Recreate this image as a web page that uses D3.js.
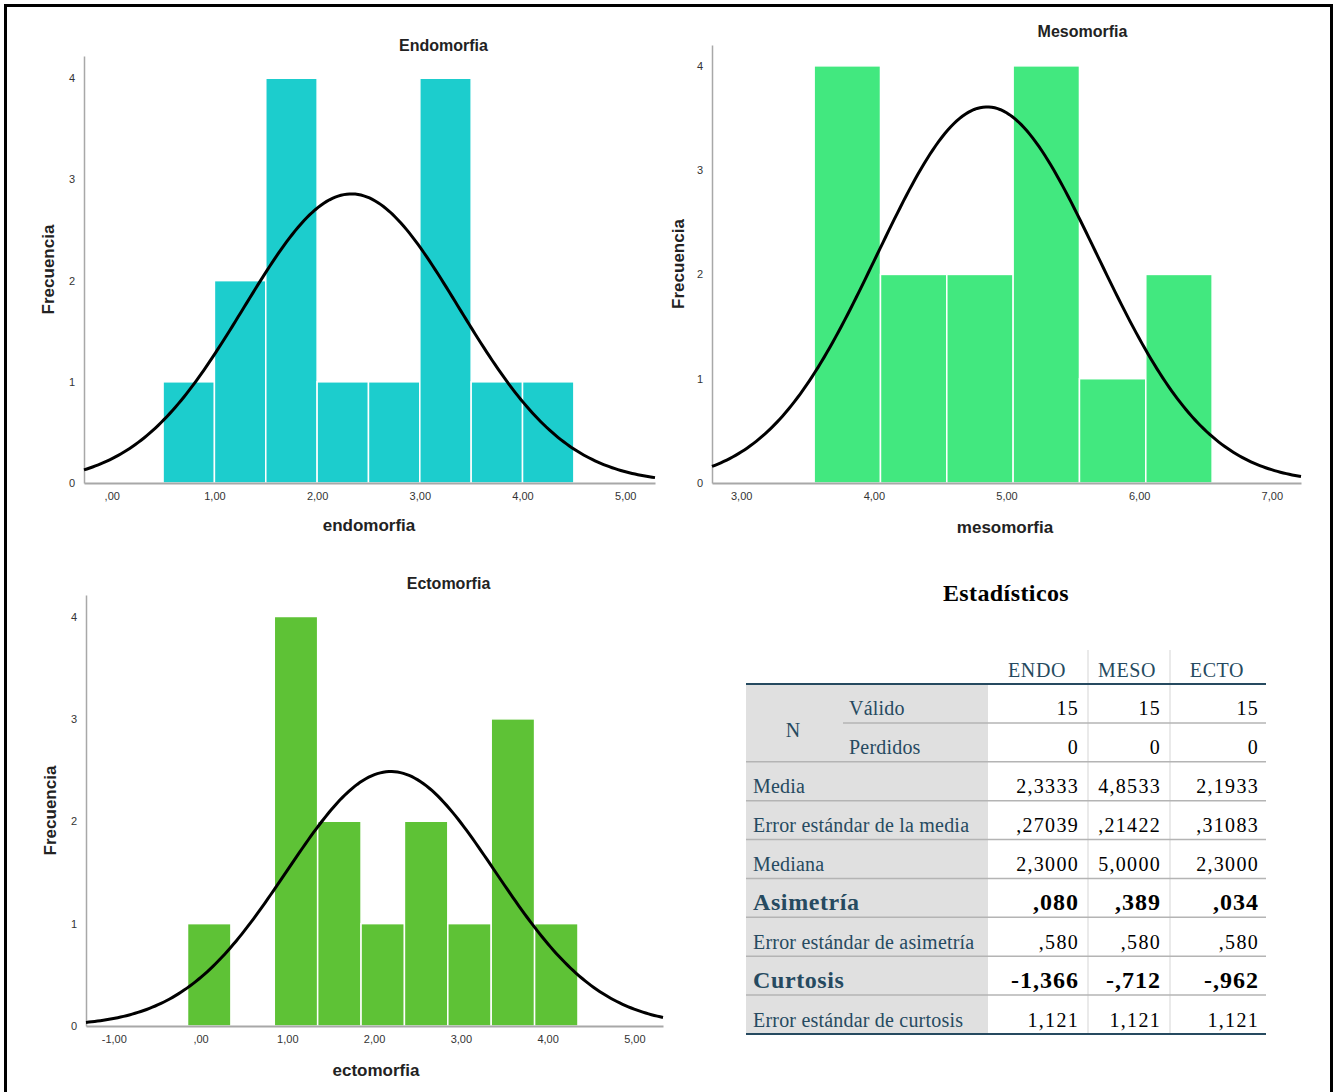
<!DOCTYPE html>
<html>
<head>
<meta charset="utf-8">
<script src="https://cdn.jsdelivr.net/npm/d3@7"></script>
<style>
    body { margin: 0; background: #fff; }
    .tick text { font-family: "Liberation Sans", Arial, sans-serif; }
</style>
</head>
<body>
<script>
//histogram bin edges and counts
var endoEdges = [0.5, 1.0, 1.5, 2.0, 2.5, 3.0, 3.5, 4.0, 4.5];
var endoCounts = [1, 2, 4, 1, 1, 4, 1, 1];
var mesoEdges = [3.55, 4.05, 4.55, 5.05, 5.55, 6.05, 6.55];
var mesoCounts = [4, 2, 2, 4, 1, 2];
var ectoEdges = [-0.15, 0.35, 0.85, 1.35, 1.85, 2.35, 2.85, 3.35, 3.85, 4.35];
var ectoCounts = [1, 0, 4, 2, 1, 2, 1, 3, 1];

//x tick values per histogram
var endoTicks = [0, 1, 2, 3, 4, 5];
var mesoTicks = [3, 4, 5, 6, 7];
var ectoTicks = [-1, 0, 1, 2, 3, 4, 5];
var yTicks = [0, 1, 2, 3, 4];

//statistics table
var columns = ["ENDO", "MESO", "ECTO"];
var nCases = 15;
var means = [2.3333, 4.8533, 2.1933];
var seMeans = [0.27039, 0.21422, 0.31083];
var rowLabels = ["Válido", "Perdidos", "Media", "Error estándar de la media", "Mediana",
    "Asimetría", "Error estándar de asimetría", "Curtosis", "Error estándar de curtosis"];
var rowValues = [
    ["15", "15", "15"],
    ["0", "0", "0"],
    ["2,3333", "4,8533", "2,1933"],
    [",27039", ",21422", ",31083"],
    ["2,3000", "5,0000", "2,3000"],
    [",080", ",389", ",034"],
    [",580", ",580", ",580"],
    ["-1,366", "-,712", "-,962"],
    ["1,121", "1,121", "1,121"]
];
var boldRows = [5, 7];

window.onload = draw();

function draw() {
    var width = 1337,
        height = 1092;

    var svg = d3.select("body")
        .append("svg")
        .attr("width", width)
        .attr("height", height);

    //black frame round the whole picture
    svg.append("path")
        .attr("d", "M5.5,1100 V5.5 H1331.5 V1100")
        .attr("fill", "none")
        .attr("stroke", "#000")
        .attr("stroke-width", 3);

    var panels = [
        { title: "Endomorfia", xTitle: "endomorfia", edges: endoEdges, counts: endoCounts, ticks: endoTicks,
          color: "#1ccdcd", col: 0, xDom: [-0.27, 5.29], xRange: [84, 655], yTop: 4.22, yRange: [483, 56],
          titleY: 51, xTitleY: 531, xTitleX: 369, yTitleX: 48 },
        { title: "Mesomorfia", xTitle: "mesomorfia", edges: mesoEdges, counts: mesoCounts, ticks: mesoTicks,
          color: "#42e87f", col: 1, xDom: [2.78, 7.22], xRange: [712, 1301], yTop: 4.2, yRange: [483, 45],
          titleY: 37, xTitleY: 533, xTitleX: 1005, yTitleX: 678 },
        { title: "Ectomorfia", xTitle: "ectomorfia", edges: ectoEdges, counts: ectoCounts, ticks: ectoTicks,
          color: "#5ec236", col: 2, xDom: [-1.32, 5.33], xRange: [86, 663], yTop: 4.21, yRange: [1026, 595],
          titleY: 589, xTitleY: 1076, xTitleX: 376, yTitleX: 50 }
    ];

    panels.forEach(drawHistogram);

    //SPSS style numbers: comma decimal, no leading zero, plain hyphen
    function fmt(v) {
        var s = d3.format(".2f")(v).replace(".", ",").replace("\u2212", "-");
        if (s.indexOf("0,") === 0) s = s.slice(1);
        return s;
    }

    function drawHistogram(p) {
        var x = d3.scaleLinear().domain(p.xDom).range(p.xRange);
        var y = d3.scaleLinear().domain([0, p.yTop]).range(p.yRange);
        var g = svg.append("g");

        var bins = p.counts.map(function(c, i) {
            return { x0: p.edges[i], x1: p.edges[i + 1], n: c };
        }).filter(function(d) { return d.n > 0; });

        //bars
        g.selectAll(".bar")
            .data(bins)
            .enter()
            .append("rect")
            .attr("class", "bar")
            .attr("x", function(d) { return x(d.x0); })
            .attr("width", function(d) { return x(d.x1) - x(d.x0); })
            .attr("y", function(d) { return y(d.n); })
            .attr("height", function(d) { return y(0) - y(d.n); })
            .attr("fill", p.color)
            .attr("stroke", "#fff")
            .attr("stroke-width", 1.5);

        //y axis
        var yAxis = g.append("g")
            .attr("transform", "translate(" + p.xRange[0] + ",0)")
            .call(d3.axisLeft(y).tickValues(yTicks).tickSize(0).tickPadding(9).tickFormat(d3.format("d")));
        yAxis.select(".domain").attr("stroke", "#a8a8a8").attr("stroke-width", 1.5);
        yAxis.selectAll("text").attr("font-size", 11).attr("fill", "#333");

        //x axis
        var xAxis = g.append("g")
            .attr("transform", "translate(0," + p.yRange[0] + ")")
            .call(d3.axisBottom(x).tickValues(p.ticks).tickSize(0).tickPadding(9).tickFormat(fmt));
        xAxis.select(".domain").attr("stroke", "#a8a8a8").attr("stroke-width", 2);
        xAxis.selectAll("text").attr("font-size", 11).attr("fill", "#333");

        //normal curve from the mean and standard deviation of the table
        var mu = means[p.col],
            sd = seMeans[p.col] * Math.sqrt(nCases),
            bw = p.edges[1] - p.edges[0];
        var xs = d3.range(p.xDom[0], p.xDom[1] + 0.0001, (p.xDom[1] - p.xDom[0]) / 200);
        var line = d3.line()
            .x(function(v) { return x(v); })
            .y(function(v) {
                var z = (v - mu) / sd;
                return y(nCases * bw * Math.exp(-0.5 * z * z) / (sd * Math.sqrt(2 * Math.PI)));
            });
        g.append("path")
            .datum(xs)
            .attr("d", line)
            .attr("fill", "none")
            .attr("stroke", "#000")
            .attr("stroke-width", 3);

        //titles
        g.append("text")
            .attr("x", (p.xRange[0] + p.xRange[1]) / 2 + (p.col === 1 ? 76 : 74))
            .attr("y", p.titleY)
            .attr("text-anchor", "middle")
            .attr("font-family", "Liberation Sans, Arial, sans-serif")
            .attr("font-weight", "bold")
            .attr("font-size", 16)
            .attr("fill", "#222")
            .text(p.title);

        g.append("text")
            .attr("x", p.xTitleX)
            .attr("y", p.xTitleY)
            .attr("text-anchor", "middle")
            .attr("font-family", "Liberation Sans, Arial, sans-serif")
            .attr("font-weight", "bold")
            .attr("font-size", 17)
            .attr("fill", "#222")
            .text(p.xTitle);

        var yc = (p.yRange[0] + p.yRange[1]) / 2;
        g.append("text")
            .attr("transform", "translate(" + p.yTitleX + "," + yc + ") rotate(-90)")
            .attr("text-anchor", "middle")
            .attr("dominant-baseline", "central")
            .attr("font-family", "Liberation Sans, Arial, sans-serif")
            .attr("font-weight", "bold")
            .attr("font-size", 17)
            .attr("fill", "#222")
            .text("Frecuencia");
    }

    drawTable();

    function drawTable() {
        var serif = "Liberation Serif, Times New Roman, serif",
            blue = "#264a60",
            left = 746,
            right = 1266,
            grayRight = 988;

        var rows = d3.scaleBand().domain(d3.range(rowLabels.length)).range([684, 1034]);
        var colRight = d3.scaleOrdinal().domain(columns).range([1079, 1161, 1259]);
        var colCenter = d3.scaleOrdinal().domain(columns).range([1037, 1127, 1217]);
        var t = svg.append("g");

        t.append("text")
            .attr("x", 1006)
            .attr("y", 601)
            .attr("text-anchor", "middle")
            .attr("font-family", serif)
            .attr("font-weight", "bold")
            .attr("font-size", 24)
            .attr("letter-spacing", 0.4)
            .attr("fill", "#000")
            .text("Estadísticos");

        //gray label block
        t.append("rect")
            .attr("x", left)
            .attr("y", rows(0))
            .attr("width", grayRight - left)
            .attr("height", rows.range()[1] - rows(0))
            .attr("fill", "#e0e0e0");

        //column separators
        t.selectAll(".vsep")
            .data([1088, 1170])
            .enter()
            .append("line")
            .attr("x1", function(d) { return d; })
            .attr("x2", function(d) { return d; })
            .attr("y1", 650)
            .attr("y2", 1034)
            .attr("stroke", "#dcdcdc")
            .attr("stroke-width", 1.2);

        //row separators
        t.selectAll(".hsep")
            .data(d3.range(1, rowLabels.length))
            .enter()
            .append("line")
            .attr("x1", function(d) { return d === 1 ? 843 : left; })
            .attr("x2", right)
            .attr("y1", function(d) { return rows(d); })
            .attr("y2", function(d) { return rows(d); })
            .attr("stroke", "#b4b4b4")
            .attr("stroke-width", 1.5);

        //header and bottom rules
        t.selectAll(".rule")
            .data([rows.range()[0], rows.range()[1]])
            .enter()
            .append("line")
            .attr("x1", left)
            .attr("x2", right)
            .attr("y1", function(d) { return d; })
            .attr("y2", function(d) { return d; })
            .attr("stroke", blue)
            .attr("stroke-width", 2);

        //column headers
        t.selectAll(".colhead")
            .data(columns)
            .enter()
            .append("text")
            .attr("x", function(d) { return colCenter(d); })
            .attr("y", 677)
            .attr("text-anchor", "middle")
            .attr("font-family", serif)
            .attr("font-size", 20)
            .attr("letter-spacing", 0.6)
            .attr("fill", blue)
            .text(function(d) { return d; });

        //N group label
        t.append("text")
            .attr("x", 793)
            .attr("y", rows(1) + 14)
            .attr("text-anchor", "middle")
            .attr("font-family", serif)
            .attr("font-size", 20)
            .attr("fill", blue)
            .text("N");

        var half = rows.bandwidth() / 2;

        //row labels
        t.selectAll(".rowlab")
            .data(rowLabels)
            .enter()
            .append("text")
            .attr("x", function(d, i) { return i < 2 ? 849 : 753; })
            .attr("y", function(d, i) { return rows(i) + half + 12; })
            .attr("font-family", serif)
            .attr("font-size", function(d, i) { return boldRows.indexOf(i) >= 0 ? 24 : 20; })
            .attr("font-weight", function(d, i) { return boldRows.indexOf(i) >= 0 ? "bold" : "normal"; })
            .attr("letter-spacing", function(d, i) { return boldRows.indexOf(i) >= 0 ? 0.6 : 0.2; })
            .attr("fill", blue)
            .text(function(d) { return d; });

        //cell values
        rowValues.forEach(function(vals, i) {
            var bold = boldRows.indexOf(i) >= 0;
            t.selectAll(".cell" + i)
                .data(vals)
                .enter()
                .append("text")
                .attr("x", function(d, j) { return colRight(columns[j]); })
                .attr("y", rows(i) + half + 12)
                .attr("text-anchor", "end")
                .attr("font-family", serif)
                .attr("font-size", bold ? 24 : 20)
                .attr("font-weight", bold ? "bold" : "normal")
                .attr("letter-spacing", bold ? 1 : 1.3)
                .attr("fill", "#000")
                .text(function(d) { return d; });
        });
    }
};
</script>
</body>
</html>
